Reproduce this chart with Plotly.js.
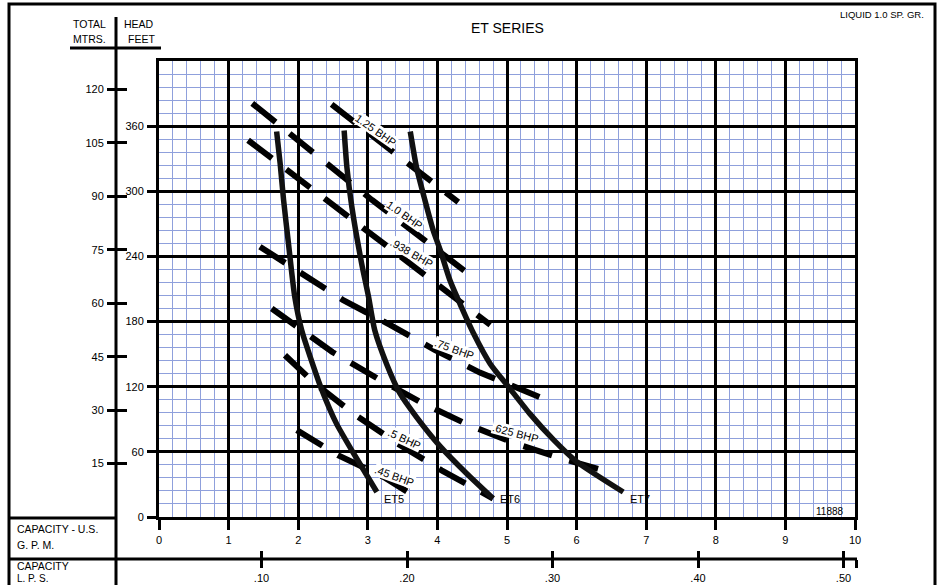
<!DOCTYPE html>
<html>
<head>
<meta charset="utf-8">
<script src="https://cdn.plot.ly/plotly-3.0.1.min.js"></script>
<style>html,body{margin:0;padding:0;background:#fff;}#chart{width:942px;height:585px;}</style>
</head>
<body>
<div id="chart"></div>
<script>
// ---- Data ----
const gpmTicks = [0,1,2,3,4,5,6,7,8,9,10];
const feetTicks = [0,60,120,180,240,300,360];
const meterTicks = [15,30,45,60,75,90,105,120];
const lpsTicks = [0.10,0.20,0.30,0.40,0.50];
const lpsTickText = ['.10','.20','.30','.40','.50'];

const pumpNames = ['ET5','ET6','ET7'];
const et5Gpm = [1.69,1.74,1.79,1.86,1.95,2.05,2.17,2.34,2.55,2.82,3.13];
const et5Ft  = [355,326,292,252,203,172,148,117,86,56,23];
const et6Gpm = [2.66,2.70,2.77,2.91,3.01,3.10,3.27,3.46,3.70,4.04,4.42,4.80];
const et6Ft  = [356,322,286,234,203,172,141,114,92,65,40,17];
const et7Gpm = [3.61,3.70,3.82,3.94,4.04,4.18,4.32,4.52,4.76,5.02,5.33,5.67,6.00,6.67];
const et7Ft  = [355,322,292,264,246,218,197,169,141,120,95,71,51,23];

const bhpNames = ['1.25 BHP','1.0 BHP','.938 BHP','.75 BHP','.625 BHP','.5 BHP','.45 BHP'];
const bhp125Gpm = [2.48,3.27,4.30];            const bhp125Ft = [380,341,290];
const bhp100Gpm = [1.34,3.06,4.57];            const bhp100Ft = [381,292,218];
const bhp938Gpm = [1.28,2.34,3.49,4.76];       const bhp938Ft = [347,295,239,177];
const bhp75Gpm  = [1.45,2.05,2.64,3.32,3.96,4.61,5.68]; const bhp75Ft = [249,225,200,177,154,133,105];
const bhp625Gpm = [1.62,2.49,3.13,3.78,4.44,5.11,5.83,6.44]; const bhp625Ft = [192,152,128,105,85,68,53,42];
const bhp50Gpm  = [1.81,2.24,2.82,3.42,4.06,4.80]; const bhp50Ft = [149,123,94,68,43,17];
const bhp45Gpm  = [1.98,2.36,2.57,3.03,3.25,3.60]; const bhp45Ft = [80,66,57,43,36,22];

const FT_PER_M = 3.28084;

// ---- Layout helpers ----
const W = 942, H = 585;
const px = x => x / W;
const py = y => 1 - y / H;
const FONT = 'Liberation Sans, Arial, sans-serif';

const curves = [[et5Gpm,et5Ft],[et6Gpm,et6Ft],[et7Gpm,et7Ft]];
const bhpLines = [[bhp125Gpm,bhp125Ft],[bhp100Gpm,bhp100Ft],[bhp938Gpm,bhp938Ft],[bhp75Gpm,bhp75Ft],[bhp625Gpm,bhp625Ft],[bhp50Gpm,bhp50Ft],[bhp45Gpm,bhp45Ft]];

const traces = [];
bhpLines.forEach((l,i) => traces.push({
  type:'scatter', mode:'lines', x:l[0], y:l[1], name:bhpNames[i],
  line:{color:'#000', width:6, dash:'30px,18px'}, hoverinfo:'skip', showlegend:false
}));
curves.forEach((c,i) => traces.push({
  type:'scatter', mode:'lines', x:c[0], y:c[1], name:pumpNames[i],
  line:{color:'#111', width:5.5, shape:'spline', smoothing:0.6}, hoverinfo:'skip', showlegend:false
}));
// dummy traces so secondary axes get drawn
traces.push({type:'scatter', x:[], y:[], xaxis:'x', yaxis:'y2', showlegend:false});
traces.push({type:'scatter', x:[], y:[], xaxis:'x', yaxis:'y3', showlegend:false});
traces.push({type:'scatter', x:[], y:[], xaxis:'x3', yaxis:'y4', showlegend:false});
traces.push({type:'scatter', x:[], y:[], xaxis:'x4', yaxis:'y4', showlegend:false});

const tickFont = {family:FONT, size:11, color:'#000'};
const lpsMax = (857-116)/1455;

// BHP label positions / angles
const bhpLabelPos = [[3.11,356,35],[3.53,278,35],[3.63,243,30],[4.24,155,20],[5.12,77,15],[3.53,72,25],[3.38,38,20]];

const annotations = [];
bhpNames.forEach((n,i) => annotations.push({
  xref:'x', yref:'y', x:bhpLabelPos[i][0], y:bhpLabelPos[i][1], text:n, showarrow:false,
  textangle:bhpLabelPos[i][2], bgcolor:'#fff', borderpad:0, font:{family:FONT, size:11, color:'#000'}
}));
curves.forEach((c,i) => annotations.push({
  xref:'x', yref:'y', x:c[0][c[0].length-1], y:16.5, xanchor:'left', xshift:5, text:pumpNames[i], showarrow:false,
  font:{family:FONT, size:11, color:'#000'}
}));
const pa = (text,x,y,size,xanchor) => ({xref:'paper', yref:'paper', x:px(x), y:py(y), text, showarrow:false, xanchor:xanchor||'center', yanchor:'middle', font:{family:FONT, size:size, color:'#000'}});
annotations.push(pa('ET SERIES',507,28,14));
annotations.push(pa('LIQUID 1.0 SP. GR.',926,14,9.5,'right'));
annotations.push(pa('11888',830,511,10));
annotations.push(pa('TOTAL',108,24,10.5,'right'));
annotations.push(pa('MTRS.',108,39,10.5,'right'));
annotations.push(pa('HEAD',122,24,10.5,'left'));
annotations.push(pa('FEET',126,39,10.5,'left'));
annotations.push(pa('CAPACITY - U.S.',15,529,10.5,'left'));
annotations.push(pa('G. P. M.',15,545,10.5,'left'));
annotations.push(pa('CAPACITY',15,566,10.5,'left'));
annotations.push(pa('L. P. S.',15,578,10,'left'));

const ln = (x0,y0,x1,y1) => ({type:'line', xref:'paper', yref:'paper', x0:px(x0), y0:py(y0), x1:px(x1), y1:py(y1), line:{color:'#000', width:3}});
const shapes = [
  {type:'rect', xref:'paper', yref:'paper', x0:px(9), y0:py(4), x1:px(935), y1:py(600), line:{color:'#000', width:3}},
  ln(116,17,116,600),
  ln(70,48,161,48),
  ln(9,518,116,518),
  ln(9,559,857,559)
];

const layout = {
  width:W, height:H, margin:{l:0,r:0,t:0,b:0},
  paper_bgcolor:'#fff', plot_bgcolor:'rgba(0,0,0,0)', showlegend:false,
  font:{family:FONT, color:'#000'},
  xaxis:{domain:[px(159),px(855)], range:[0,10], tickvals:gpmTicks, showgrid:true, gridcolor:'#000', gridwidth:3,
    minor:{tickmode:'linear', tick0:0, dtick:0.2, showgrid:true, gridcolor:'#8fa0dc', gridwidth:1, ticks:''},
    showline:true, linecolor:'#000', linewidth:3, mirror:true, ticks:'outside', ticklen:10, tickwidth:3, tickcolor:'#000',
    ticklabelstandoff:1, tickfont:tickFont, zeroline:false, fixedrange:true},
  yaxis:{domain:[py(517),py(61)], range:[0,420], tickvals:feetTicks, showgrid:true, gridcolor:'#000', gridwidth:3,
    minor:{tickmode:'linear', tick0:0, dtick:12, showgrid:true, gridcolor:'#8fa0dc', gridwidth:1, ticks:''},
    showline:true, linecolor:'#000', linewidth:3, mirror:true, ticks:'outside', ticklen:9, tickwidth:3, tickcolor:'#000',
    ticklabelstandoff:1, tickfont:tickFont, zeroline:false, fixedrange:true},
  yaxis2:{overlaying:'y', anchor:'free', position:px(116), side:'left', range:[0,420/FT_PER_M], tickvals:meterTicks,
    ticks:'outside', ticklen:9, tickwidth:3, tickcolor:'#000', showgrid:false, showline:false, zeroline:false,
    ticklabelstandoff:1, tickfont:tickFont, fixedrange:true},
  yaxis3:{overlaying:'y', anchor:'free', position:px(116), side:'left', range:[0,420/FT_PER_M], tickvals:meterTicks,
    ticks:'inside', ticklen:10, tickwidth:3, tickcolor:'#000', showgrid:false, showline:false, zeroline:false,
    showticklabels:false, fixedrange:true},
  yaxis4:{domain:[0,0.02], range:[0,1], visible:false, showgrid:false, zeroline:false, fixedrange:true},
  xaxis3:{domain:[px(116),px(857)], anchor:'free', position:py(559), range:[0,lpsMax],
    tickvals:lpsTicks.concat([lpsMax-0.0005]), ticktext:lpsTickText.concat(['']),
    ticks:'outside', ticklen:8, tickwidth:3, tickcolor:'#000', showgrid:false, showline:false, zeroline:false,
    ticklabelstandoff:1, tickfont:tickFont, fixedrange:true},
  xaxis4:{overlaying:'x3', anchor:'free', position:py(559), range:[0,lpsMax],
    tickvals:lpsTicks.concat([lpsMax-0.0005]), ticks:'inside', ticklen:8, tickwidth:3, tickcolor:'#000',
    showgrid:false, showline:false, zeroline:false, showticklabels:false, fixedrange:true},
  annotations, shapes
};

Plotly.newPlot('chart', traces, layout, {staticPlot:true, displayModeBar:false});
</script>
</body>
</html>
